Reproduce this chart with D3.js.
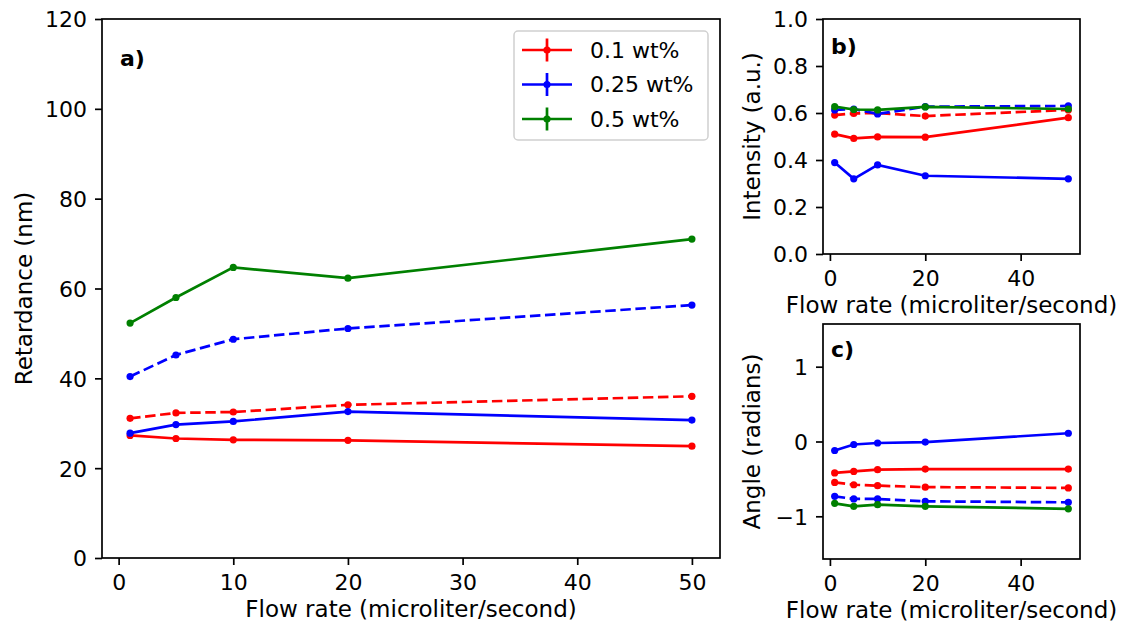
<!DOCTYPE html>
<html>
<head>
<meta charset="utf-8">
<script src="https://cdn.jsdelivr.net/npm/d3@7"></script>
<style>
  body { margin: 0; background: #fff; }
  svg { font-family: "DejaVu Sans", sans-serif; }
</style>
</head>
<body>
<div id="chart"></div>
<script>
// Flow rates (microliter/second)
const flowRates = [1, 5, 10, 20, 50];

// Panel a) retardance (nm)
const retRedSolid = [27.3, 26.6, 26.3, 26.2, 24.9];
const retRedDashed = [31.1, 32.3, 32.5, 34.1, 36.0];
const retBlueSolid = [27.8, 29.7, 30.4, 32.6, 30.7];
const retBlueDashed = [40.4, 45.2, 48.7, 51.1, 56.3];
const retGreenSolid = [52.3, 58.0, 64.7, 62.3, 71.0];

// Panel b) intensity (a.u.)
const intRedSolid = [0.51, 0.492, 0.498, 0.497, 0.58];
const intRedDashed = [0.591, 0.598, 0.60, 0.587, 0.613];
const intBlueSolid = [0.389, 0.32, 0.379, 0.333, 0.32];
const intBlueDashed = [0.613, 0.617, 0.596, 0.627, 0.63];
const intGreenSolid = [0.627, 0.615, 0.613, 0.626, 0.617];

// Panel c) angle (radians)
const angRedSolid = [-0.42, -0.40, -0.377, -0.368, -0.368];
const angRedDashed = [-0.547, -0.578, -0.59, -0.61, -0.62];
const angBlueSolid = [-0.12, -0.04, -0.02, -0.008, 0.11];
const angBlueDashed = [-0.733, -0.768, -0.768, -0.80, -0.813];
const angGreenSolid = [-0.827, -0.867, -0.844, -0.867, -0.90];

const legendLabels = ['0.1 wt%', '0.25 wt%', '0.5 wt%'];
const legendColors = ['#ff0000', '#0000ff', '#008000'];

const xTicksA = [0, 10, 20, 30, 40, 50];
const xTicksSmall = [0, 20, 40];
const yTicksA = [0, 20, 40, 60, 80, 100, 120];
const yTicksB = [0, 0.2, 0.4, 0.6, 0.8, 1.0];
const yTicksC = [-1, 0, 1];

const W = 1126, H = 630;
const svg = d3.select('#chart').append('svg')
    .attr('width', W)
    .attr('height', H);

const tickFont = '22px';
const labelFont = '23px';
const lineW = 2.7;
const xDomain = [-1.45, 52.45];

function drawPanel(opts) {
    const { left, right, top, bottom, yDomain, xTicks, yTicks, yFormat, series, label, ylabel } = opts;
    const x = d3.scaleLinear().domain(xDomain).range([left, right]);
    const y = d3.scaleLinear().domain(yDomain).range([bottom, top]);
    const g = svg.append('g');

    // lines + markers
    series.forEach(s => {
        const pts = flowRates.map((f, i) => [f, s.values[i]]);
        const line = d3.line().x(d => x(d[0])).y(d => y(d[1]));
        g.append('path')
            .attr('d', line(pts))
            .attr('fill', 'none')
            .attr('stroke', s.color)
            .attr('stroke-width', lineW)
            .attr('stroke-dasharray', s.dashed ? '10.5,4.6' : null);
        g.selectAll(null)
            .data(pts)
            .enter()
            .append('circle')
            .attr('cx', d => x(d[0]))
            .attr('cy', d => y(d[1]))
            .attr('r', 3.6)
            .attr('fill', s.color);
    });

    // axes
    const xAxis = g.append('g')
        .attr('transform', `translate(0,${bottom})`)
        .call(d3.axisBottom(x).tickValues(xTicks).tickSize(7).tickPadding(9).tickFormat(d3.format('d')));
    const yAxis = g.append('g')
        .attr('transform', `translate(${left},0)`)
        .call(d3.axisLeft(y).tickValues(yTicks).tickSize(7).tickPadding(8).tickFormat(yFormat));
    [xAxis, yAxis].forEach(a => {
        a.select('.domain').remove();
        a.selectAll('line').attr('stroke', '#000').attr('stroke-width', 1.7);
        a.selectAll('text')
            .attr('fill', '#000')
            .style('font-size', tickFont)
            .style('font-family', '"DejaVu Sans", sans-serif');
    });
    yAxis.selectAll('text').attr('dy', '0.36em');

    // frame
    g.append('rect')
        .attr('x', left).attr('y', top)
        .attr('width', right - left).attr('height', bottom - top)
        .attr('fill', 'none')
        .attr('stroke', '#000')
        .attr('stroke-width', 1.7);

    // panel tag
    g.append('text')
        .attr('x', left + opts.tagDx)
        .attr('y', top + opts.tagDy)
        .style('font-size', '22px')
        .style('font-weight', 'bold')
        .text(label);

    // labels
    g.append('text')
        .attr('x', (left + right) / 2)
        .attr('y', bottom + 59)
        .attr('text-anchor', 'middle')
        .style('font-size', labelFont)
        .text('Flow rate (microliter/second)');
    g.append('text')
        .attr('transform', `translate(${opts.ylabelX},${(top + bottom) / 2}) rotate(-90)`)
        .attr('text-anchor', 'middle')
        .style('font-size', labelFont)
        .text(ylabel);
    return g;
}

// Panel a
drawPanel({
    left: 102, right: 720, top: 19, bottom: 558,
    yDomain: [0, 120], xTicks: xTicksA, yTicks: yTicksA,
    yFormat: d3.format('d'),
    label: 'a)', tagDx: 18, tagDy: 47,
    ylabel: 'Retardance (nm)', ylabelX: 32,
    series: [
        { values: retRedSolid, color: legendColors[0], dashed: false },
        { values: retRedDashed, color: legendColors[0], dashed: true },
        { values: retBlueSolid, color: legendColors[1], dashed: false },
        { values: retBlueDashed, color: legendColors[1], dashed: true },
        { values: retGreenSolid, color: legendColors[2], dashed: false }
    ]
});

// Panel b
drawPanel({
    left: 823, right: 1080, top: 19, bottom: 254,
    yDomain: [0, 1], xTicks: xTicksSmall, yTicks: yTicksB,
    yFormat: d3.format('.1f'),
    label: 'b)', tagDx: 8, tagDy: 35,
    ylabel: 'Intensity (a.u.)', ylabelX: 760,
    series: [
        { values: intRedSolid, color: legendColors[0], dashed: false },
        { values: intRedDashed, color: legendColors[0], dashed: true },
        { values: intBlueSolid, color: legendColors[1], dashed: false },
        { values: intBlueDashed, color: legendColors[1], dashed: true },
        { values: intGreenSolid, color: legendColors[2], dashed: false }
    ]
});

// Panel c
drawPanel({
    left: 823, right: 1080, top: 324, bottom: 559,
    yDomain: [-Math.PI / 2, Math.PI / 2], xTicks: xTicksSmall, yTicks: yTicksC,
    yFormat: d3.format('d'),
    label: 'c)', tagDx: 8, tagDy: 33,
    ylabel: 'Angle (radians)', ylabelX: 760,
    series: [
        { values: angRedSolid, color: legendColors[0], dashed: false },
        { values: angRedDashed, color: legendColors[0], dashed: true },
        { values: angBlueSolid, color: legendColors[1], dashed: false },
        { values: angBlueDashed, color: legendColors[1], dashed: true },
        { values: angGreenSolid, color: legendColors[2], dashed: false }
    ]
});

// Legend (panel a)
const legend = svg.append('g').attr('transform', 'translate(514,31)');
legend.append('rect')
    .attr('width', 194).attr('height', 109)
    .attr('rx', 4)
    .attr('fill', '#fff')
    .attr('fill-opacity', 0.8)
    .attr('stroke', '#d0d0d0')
    .attr('stroke-width', 1.5);
legendLabels.forEach((lab, i) => {
    const cy = 19 + i * 34.5;
    const item = legend.append('g');
    item.append('line')
        .attr('x1', 8).attr('x2', 58)
        .attr('y1', cy).attr('y2', cy)
        .attr('stroke', legendColors[i]).attr('stroke-width', lineW);
    item.append('line')
        .attr('x1', 33).attr('x2', 33)
        .attr('y1', cy - 11.5).attr('y2', cy + 11.5)
        .attr('stroke', legendColors[i]).attr('stroke-width', lineW);
    item.append('circle')
        .attr('cx', 33).attr('cy', cy).attr('r', 3.6)
        .attr('fill', legendColors[i]);
    item.append('text')
        .attr('x', 76).attr('y', cy)
        .attr('dy', '0.36em')
        .style('font-size', '22px')
        .text(lab);
});
</script>
</body>
</html>
